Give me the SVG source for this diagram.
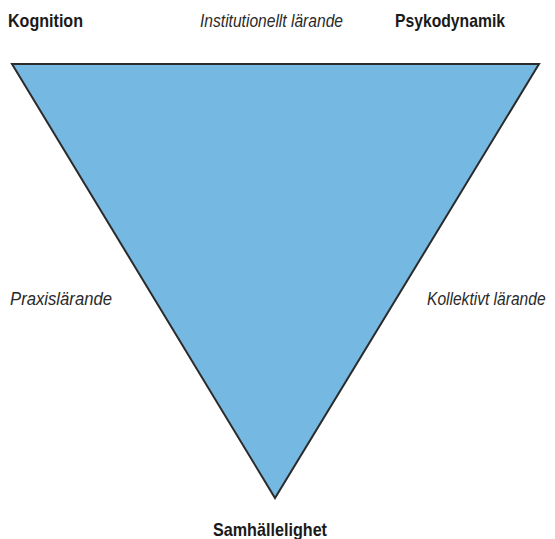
<svg xmlns="http://www.w3.org/2000/svg" width="555" height="539" viewBox="0 0 555 539">
  <style>
    .pole { font-family: "Liberation Sans", Arial, sans-serif; font-weight: bold; font-size: 19px; fill: #1a1a1a; }
    .mode { font-family: "Liberation Sans", Arial, sans-serif; font-style: italic; font-size: 19px; fill: #2a2a2a; }
  </style>
  <rect width="555" height="539" fill="#ffffff"/>
  <g id="triangle">
    <polygon points="12,64 539,64 275,498" fill="#75b8e1" stroke="#2b2b2b" stroke-width="2" stroke-linejoin="miter"/>
  </g>
  <g id="kognition">
    <text class="pole" x="8" y="27" textLength="75" lengthAdjust="spacingAndGlyphs">Kognition</text>
  </g>
  <g id="institutionellt">
    <text class="mode" x="200" y="27" textLength="143" lengthAdjust="spacingAndGlyphs">Institutionellt lärande</text>
  </g>
  <g id="psykodynamik">
    <text class="pole" x="395" y="27" textLength="110" lengthAdjust="spacingAndGlyphs">Psykodynamik</text>
  </g>
  <g id="praxis">
    <text class="mode" x="10" y="305" textLength="102" lengthAdjust="spacingAndGlyphs">Praxislärande</text>
  </g>
  <g id="kollektivt">
    <!-- condensed horizontally so the label stays inside the right edge -->
    <text class="mode" transform="translate(427,305) scale(0.82,1)">Kollektivt lärande</text>
  </g>
  <g id="samhallelighet">
    <text class="pole" x="213" y="536" textLength="114" lengthAdjust="spacingAndGlyphs">Samhällelighet</text>
  </g>
</svg>
